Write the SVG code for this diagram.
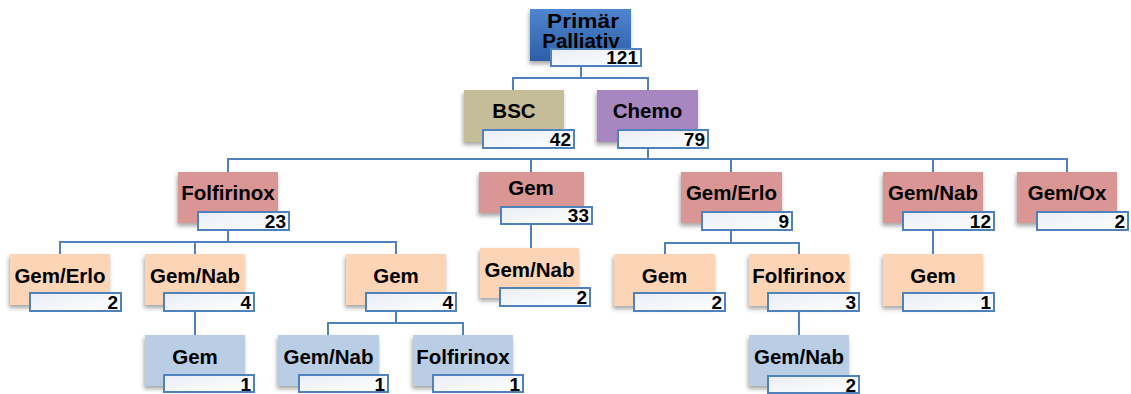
<svg xmlns="http://www.w3.org/2000/svg" width="1131" height="394" viewBox="0 0 1131 394">
<defs>
<linearGradient id="gTop" x1="0" y1="0" x2="0" y2="1"><stop offset="0" stop-color="#4f86cf"/><stop offset="1" stop-color="#2c5ea6"/></linearGradient>
<linearGradient id="gCnt" x1="0" y1="0" x2="1" y2="1"><stop offset="0" stop-color="#e9edf4"/><stop offset="1" stop-color="#ffffff"/></linearGradient>
<filter id="sh" x="-20%" y="-20%" width="140%" height="150%"><feDropShadow dx="-1" dy="3" stdDeviation="2" flood-color="#000" flood-opacity="0.35"/></filter>
</defs>
<style>
.conn{fill:none;stroke:#4f81bd;stroke-width:2}
.box{filter:url(#sh)}
.top{fill:url(#gTop)}
.bsc{fill:#c4bd97}
.chemo{fill:#a886c0}
.l2{fill:#d99694}
.l3{fill:#fbd5b5}
.l4{fill:#b9cde5}
.cnt{fill:url(#gCnt);stroke:#4f81bd;stroke-width:2}
.lbl{font-family:"Liberation Sans",Arial,sans-serif;font-weight:bold;font-size:20.5px;fill:#000;text-anchor:middle}
.num{font-family:"Liberation Sans",Arial,sans-serif;font-weight:bold;font-size:19px;fill:#000;text-anchor:end}
</style>
<g id="connectors">
<path class="conn" d="M581 65V78M513 90V78H648V90"/>
<path class="conn" d="M648 148V159M228 172V159H1067V172M531 159V172M731 159V172M933 159V172"/>
<path class="conn" d="M228 230V242M60 254V242H396V254M195 242V254"/>
<path class="conn" d="M195 311V335"/>
<path class="conn" d="M396 311V323M328 335V323H463V335"/>
<path class="conn" d="M531 224V248"/>
<path class="conn" d="M731 230V243M665 254V243H799V254"/>
<path class="conn" d="M799 312V335"/>
<path class="conn" d="M933 230V254"/>
</g>
<g id="n-primar">
<rect class="box top" x="530" y="9" width="101" height="52"/>
<text class="lbl" x="583" y="28" textLength="72" lengthAdjust="spacingAndGlyphs">Primär</text>
<text class="lbl" x="581" y="48">Palliativ</text>
<rect class="cnt" x="551" y="49" width="90" height="17"/>
<text class="num" x="638" y="64">121</text>
</g>
<g id="n-bsc">
<rect class="box bsc" x="464" y="90" width="100" height="52"/>
<text class="lbl" x="514" y="118">BSC</text>
<rect class="cnt" x="483" y="130" width="91" height="18"/>
<text class="num" x="571" y="146">42</text>
</g>
<g id="n-chemo">
<rect class="box chemo" x="597" y="90" width="101" height="52"/>
<text class="lbl" x="647.5" y="118">Chemo</text>
<rect class="cnt" x="618" y="130" width="90" height="18"/>
<text class="num" x="705" y="146">79</text>
</g>
<g id="n-folf2">
<rect class="box l2" x="178" y="172" width="100" height="51"/>
<text class="lbl" x="228" y="200">Folfirinox</text>
<rect class="cnt" x="198" y="212" width="91" height="18"/>
<text class="num" x="286" y="228">23</text>
</g>
<g id="n-gem2">
<rect class="box l2" x="479" y="172" width="105" height="41"/>
<text class="lbl" x="531" y="195">Gem</text>
<rect class="cnt" x="501" y="207" width="91" height="17"/>
<text class="num" x="589" y="222">33</text>
</g>
<g id="n-gemerlo2">
<rect class="box l2" x="681" y="172" width="101" height="51"/>
<text class="lbl" x="731.5" y="200">Gem/Erlo</text>
<rect class="cnt" x="702" y="212" width="90" height="18"/>
<text class="num" x="789" y="228">9</text>
</g>
<g id="n-gemnab2">
<rect class="box l2" x="883" y="172" width="100" height="51"/>
<text class="lbl" x="933" y="200">Gem/Nab</text>
<rect class="cnt" x="903" y="212" width="91" height="18"/>
<text class="num" x="991" y="228">12</text>
</g>
<g id="n-gemox2">
<rect class="box l2" x="1017" y="172" width="100" height="51"/>
<text class="lbl" x="1067" y="200">Gem/Ox</text>
<rect class="cnt" x="1037" y="212" width="91" height="18"/>
<text class="num" x="1125" y="228">2</text>
</g>
<g id="n-gemerlo3">
<rect class="box l3" x="10" y="254" width="100" height="51"/>
<text class="lbl" x="60" y="283">Gem/Erlo</text>
<rect class="cnt" x="30" y="293" width="91" height="18"/>
<text class="num" x="118" y="309">2</text>
</g>
<g id="n-gemnab3">
<rect class="box l3" x="145" y="254" width="100" height="51"/>
<text class="lbl" x="195" y="283">Gem/Nab</text>
<rect class="cnt" x="164" y="293" width="90" height="18"/>
<text class="num" x="251" y="309">4</text>
</g>
<g id="n-gem3a">
<rect class="box l3" x="346" y="254" width="100" height="51"/>
<text class="lbl" x="396" y="283">Gem</text>
<rect class="cnt" x="366" y="293" width="90" height="18"/>
<text class="num" x="453" y="309">4</text>
</g>
<g id="n-gemnab3b">
<rect class="box l3" x="480" y="248" width="99" height="50"/>
<text class="lbl" x="529.5" y="277">Gem/Nab</text>
<rect class="cnt" x="500" y="288" width="90" height="18"/>
<text class="num" x="587" y="304">2</text>
</g>
<g id="n-gem3c">
<rect class="box l3" x="614" y="254" width="101" height="52"/>
<text class="lbl" x="664.5" y="283">Gem</text>
<rect class="cnt" x="634" y="293" width="91" height="18"/>
<text class="num" x="722" y="309">2</text>
</g>
<g id="n-folf3">
<rect class="box l3" x="749" y="254" width="100" height="52"/>
<text class="lbl" x="799" y="283">Folfirinox</text>
<rect class="cnt" x="768" y="293" width="91" height="18"/>
<text class="num" x="856" y="309">3</text>
</g>
<g id="n-gem3d">
<rect class="box l3" x="883" y="254" width="100" height="52"/>
<text class="lbl" x="933" y="283">Gem</text>
<rect class="cnt" x="903" y="293" width="91" height="18"/>
<text class="num" x="991" y="309">1</text>
</g>
<g id="n-gem4a">
<rect class="box l4" x="145" y="335" width="100" height="51"/>
<text class="lbl" x="195" y="364">Gem</text>
<rect class="cnt" x="164" y="375" width="90" height="17"/>
<text class="num" x="251" y="391">1</text>
</g>
<g id="n-gemnab4">
<rect class="box l4" x="278" y="335" width="101" height="51"/>
<text class="lbl" x="328.5" y="364">Gem/Nab</text>
<rect class="cnt" x="299" y="375" width="89" height="17"/>
<text class="num" x="385" y="391">1</text>
</g>
<g id="n-folf4">
<rect class="box l4" x="413" y="335" width="100" height="51"/>
<text class="lbl" x="463" y="364">Folfirinox</text>
<rect class="cnt" x="433" y="375" width="90" height="17"/>
<text class="num" x="520" y="391">1</text>
</g>
<g id="n-gemnab4b">
<rect class="box l4" x="749" y="335" width="100" height="51"/>
<text class="lbl" x="799" y="364">Gem/Nab</text>
<rect class="cnt" x="768" y="376" width="91" height="17"/>
<text class="num" x="856" y="392">2</text>
</g>
</svg>
